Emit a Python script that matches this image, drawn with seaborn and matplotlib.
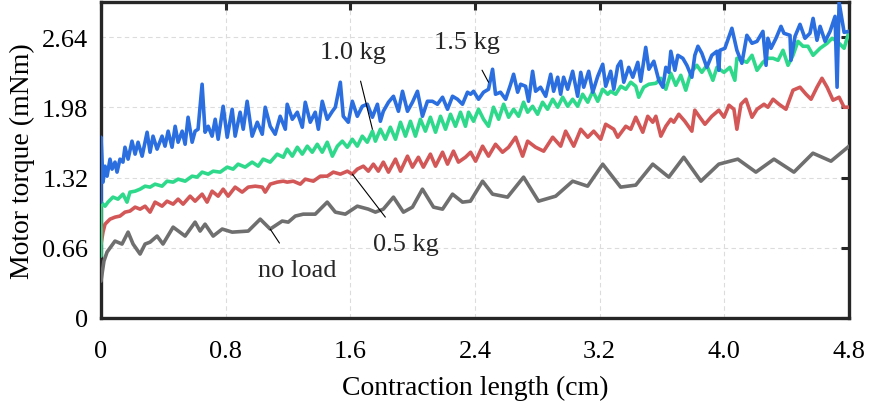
import matplotlib
matplotlib.use("Agg")
import matplotlib.pyplot as plt
import seaborn as sns
import pandas as pd

# ---------------- data ----------------
x_noload = [0.000, 0.019, 0.039, 0.090, 0.135, 0.174, 0.206, 0.251, 0.283, 0.315, 0.360, 0.398,
            0.463, 0.540, 0.604, 0.636, 0.668, 0.720, 0.778, 0.842, 0.945, 1.022, 1.086, 1.163,
            1.202, 1.247, 1.298, 1.375, 1.452, 1.504, 1.568, 1.645, 1.716, 1.761, 1.812, 1.877,
            1.941, 1.999, 2.063, 2.134, 2.192, 2.256, 2.320, 2.371, 2.449, 2.513, 2.609, 2.712,
            2.808, 2.918, 3.027, 3.123, 3.220, 3.335, 3.432, 3.541, 3.644, 3.740, 3.850, 3.965,
            4.087, 4.203, 4.319, 4.447, 4.569, 4.685, 4.801]
y_noload = [0.347, 0.535, 0.620, 0.723, 0.695, 0.807, 0.695, 0.601, 0.695, 0.713, 0.770, 0.695,
            0.854, 0.770, 0.901, 0.817, 0.882, 0.770, 0.836, 0.807, 0.817, 0.929, 0.836, 0.911,
            0.901, 0.958, 0.976, 0.976, 1.089, 0.995, 0.976, 1.051, 1.023, 0.995, 1.023, 1.136,
            0.995, 1.042, 1.211, 1.042, 1.023, 1.164, 1.089, 1.098, 1.286, 1.164, 1.136, 1.324,
            1.098, 1.145, 1.286, 1.239, 1.446, 1.230, 1.249, 1.446, 1.324, 1.511, 1.286, 1.446,
            1.493, 1.371, 1.493, 1.371, 1.549, 1.474, 1.615]

x_05 = [0.000, 0.013, 0.026, 0.058, 0.090, 0.122, 0.154, 0.186, 0.219, 0.251, 0.283, 0.315,
        0.347, 0.392, 0.424, 0.463, 0.495, 0.527, 0.572, 0.604, 0.649, 0.681, 0.713, 0.752,
        0.784, 0.816, 0.861, 0.906, 0.945, 0.990, 1.035, 1.054, 1.086, 1.131, 1.170, 1.195,
        1.234, 1.279, 1.311, 1.363, 1.408, 1.452, 1.491, 1.536, 1.581, 1.613, 1.645, 1.684,
        1.716, 1.748, 1.780, 1.812, 1.845, 1.890, 1.922, 1.967, 1.999, 2.037, 2.069, 2.114,
        2.147, 2.192, 2.224, 2.262, 2.294, 2.339, 2.372, 2.404, 2.449, 2.487, 2.532, 2.577,
        2.616, 2.661, 2.706, 2.738, 2.789, 2.841, 2.899, 2.950, 2.982, 3.034, 3.079, 3.124,
        3.162, 3.207, 3.239, 3.291, 3.316, 3.368, 3.400, 3.432, 3.477, 3.509, 3.541, 3.561,
        3.593, 3.625, 3.657, 3.676, 3.708, 3.747, 3.792, 3.811, 3.843, 3.876, 3.920, 3.965,
        3.998, 4.030, 4.062, 4.081, 4.107, 4.139, 4.178, 4.210, 4.255, 4.280, 4.313, 4.351,
        4.396, 4.441, 4.486, 4.525, 4.557, 4.595, 4.627, 4.660, 4.698, 4.737, 4.769, 4.801]
y_05 = [0.695, 0.807, 0.882, 0.929, 0.948, 0.958, 0.995, 1.005, 1.042, 1.023, 1.051, 0.995,
        1.089, 1.051, 1.098, 1.070, 1.117, 1.070, 1.145, 1.098, 1.164, 1.089, 1.192, 1.145,
        1.211, 1.145, 1.230, 1.183, 1.230, 1.239, 1.230, 1.183, 1.258, 1.277, 1.286, 1.277,
        1.286, 1.258, 1.305, 1.286, 1.333, 1.333, 1.371, 1.352, 1.380, 1.352, 1.399, 1.427,
        1.380, 1.446, 1.380, 1.465, 1.371, 1.493, 1.380, 1.521, 1.418, 1.511, 1.418, 1.540,
        1.427, 1.558, 1.446, 1.568, 1.465, 1.511, 1.558, 1.474, 1.615, 1.521, 1.633, 1.558,
        1.605, 1.699, 1.521, 1.662, 1.605, 1.568, 1.699, 1.615, 1.756, 1.615, 1.774, 1.699,
        1.756, 1.680, 1.821, 1.774, 1.699, 1.802, 1.774, 1.887, 1.746, 1.896, 1.840, 1.896,
        1.709, 1.802, 1.868, 1.840, 1.915, 1.849, 1.756, 1.953, 1.887, 1.821, 1.896, 1.953,
        1.887, 2.000, 1.962, 1.774, 2.009, 2.056, 1.887, 1.962, 2.009, 1.981, 2.056, 2.009,
        1.962, 2.141, 2.169, 2.103, 2.056, 2.169, 2.253, 2.169, 2.047, 2.075, 1.981, 1.981]

x_10 = [0.000, 0.000, 0.026, 0.045, 0.077, 0.109, 0.141, 0.167, 0.186, 0.219, 0.251, 0.283,
        0.315, 0.347, 0.392, 0.424, 0.463, 0.495, 0.540, 0.585, 0.617, 0.649, 0.688, 0.720,
        0.765, 0.810, 0.848, 0.880, 0.925, 0.970, 1.009, 1.041, 1.086, 1.131, 1.170, 1.195,
        1.228, 1.260, 1.292, 1.324, 1.356, 1.388, 1.420, 1.452, 1.485, 1.517, 1.549, 1.581,
        1.613, 1.645, 1.677, 1.709, 1.742, 1.761, 1.793, 1.825, 1.857, 1.890, 1.922, 1.954,
        1.986, 2.018, 2.050, 2.082, 2.114, 2.147, 2.179, 2.211, 2.243, 2.275, 2.307, 2.339,
        2.359, 2.391, 2.423, 2.455, 2.487, 2.519, 2.552, 2.584, 2.616, 2.648, 2.680, 2.712,
        2.738, 2.770, 2.802, 2.834, 2.866, 2.899, 2.931, 2.963, 2.995, 3.027, 3.059, 3.091,
        3.124, 3.156, 3.188, 3.220, 3.252, 3.271, 3.303, 3.336, 3.368, 3.400, 3.432, 3.451,
        3.483, 3.516, 3.561, 3.593, 3.625, 3.657, 3.689, 3.721, 3.753, 3.786, 3.824, 3.856,
        3.888, 3.927, 3.953, 3.998, 4.036, 4.068, 4.081, 4.113, 4.145, 4.178, 4.210, 4.248,
        4.280, 4.313, 4.345, 4.377, 4.409, 4.441, 4.473, 4.505, 4.537, 4.570, 4.615, 4.660,
        4.692, 4.724, 4.769, 4.801]
y_10 = [0.582, 1.089, 1.051, 1.089, 1.136, 1.117, 1.164, 1.089, 1.183, 1.192, 1.211, 1.239,
        1.230, 1.258, 1.239, 1.286, 1.277, 1.305, 1.286, 1.333, 1.324, 1.371, 1.352, 1.380,
        1.371, 1.418, 1.399, 1.446, 1.418, 1.465, 1.427, 1.493, 1.465, 1.540, 1.511, 1.587,
        1.521, 1.605, 1.540, 1.615, 1.558, 1.633, 1.558, 1.652, 1.521, 1.615, 1.662, 1.605,
        1.680, 1.615, 1.709, 1.652, 1.756, 1.662, 1.774, 1.680, 1.793, 1.680, 1.840, 1.709,
        1.849, 1.709, 1.868, 1.756, 1.887, 1.746, 1.896, 1.774, 1.915, 1.802, 1.934, 1.802,
        1.934, 1.849, 1.962, 1.868, 1.802, 1.981, 1.868, 2.009, 1.887, 1.962, 1.896, 2.028,
        1.934, 1.990, 1.915, 2.028, 1.962, 2.056, 1.981, 2.075, 1.990, 2.056, 1.990, 2.103,
        2.028, 2.131, 2.037, 2.150, 2.103, 2.131, 2.103, 2.178, 2.150, 2.216, 2.178, 2.075,
        2.169, 2.197, 2.206, 2.253, 2.150, 2.300, 2.187, 2.281, 2.141, 2.309, 2.375, 2.309,
        2.375, 2.234, 2.356, 2.309, 2.356, 2.234, 2.441, 2.422, 2.403, 2.469, 2.328, 2.403,
        2.441, 2.441, 2.422, 2.516, 2.375, 2.469, 2.600, 2.554, 2.554, 2.469, 2.535, 2.582,
        2.629, 2.600, 2.535, 2.694]

x_15 = [0.000, 0.000, 0.013, 0.026, 0.039, 0.058, 0.071, 0.090, 0.103, 0.122, 0.141, 0.154,
        0.174, 0.199, 0.219, 0.238, 0.264, 0.296, 0.315, 0.334, 0.360, 0.392, 0.411, 0.431,
        0.456, 0.476, 0.495, 0.521, 0.540, 0.559, 0.585, 0.604, 0.623, 0.649, 0.668, 0.688,
        0.713, 0.733, 0.752, 0.784, 0.810, 0.842, 0.861, 0.893, 0.913, 0.938, 0.970, 1.003,
        1.035, 1.054, 1.086, 1.118, 1.150, 1.183, 1.195, 1.228, 1.260, 1.292, 1.311, 1.343,
        1.375, 1.395, 1.420, 1.452, 1.485, 1.504, 1.536, 1.555, 1.587, 1.613, 1.645, 1.677,
        1.709, 1.742, 1.774, 1.793, 1.812, 1.845, 1.877, 1.909, 1.935, 1.967, 1.999, 2.031,
        2.063, 2.095, 2.127, 2.159, 2.192, 2.224, 2.256, 2.288, 2.320, 2.352, 2.372, 2.391,
        2.423, 2.455, 2.487, 2.513, 2.532, 2.564, 2.597, 2.629, 2.648, 2.674, 2.693, 2.725,
        2.744, 2.770, 2.789, 2.821, 2.854, 2.886, 2.905, 2.931, 2.950, 2.969, 2.995, 3.027,
        3.059, 3.079, 3.098, 3.130, 3.156, 3.188, 3.220, 3.239, 3.271, 3.291, 3.316, 3.336,
        3.355, 3.387, 3.413, 3.445, 3.464, 3.496, 3.516, 3.548, 3.580, 3.606, 3.625, 3.644,
        3.657, 3.683, 3.702, 3.734, 3.760, 3.792, 3.811, 3.831, 3.856, 3.888, 3.920, 3.953,
        3.965, 3.972, 4.004, 4.049, 4.081, 4.113, 4.145, 4.178, 4.210, 4.248, 4.268, 4.280,
        4.300, 4.332, 4.364, 4.383, 4.422, 4.428, 4.454, 4.486, 4.518, 4.550, 4.570, 4.595,
        4.615, 4.647, 4.679, 4.711, 4.724, 4.737, 4.769, 4.801]
y_15 = [1.089, 1.699, 1.277, 1.427, 1.333, 1.493, 1.399, 1.465, 1.371, 1.493, 1.465, 1.605,
        1.493, 1.662, 1.540, 1.652, 1.521, 1.746, 1.558, 1.709, 1.587, 1.709, 1.615, 1.756,
        1.605, 1.802, 1.652, 1.756, 1.633, 1.887, 1.652, 1.756, 1.774, 2.197, 1.746, 1.802,
        1.709, 1.868, 1.680, 1.990, 1.699, 1.962, 1.709, 1.934, 1.774, 2.037, 1.709, 1.840,
        1.727, 1.981, 1.802, 1.727, 1.896, 1.774, 2.009, 1.868, 1.934, 1.793, 2.028, 1.840,
        1.934, 1.774, 2.037, 1.868, 1.943, 1.981, 2.216, 1.896, 1.840, 2.037, 1.896, 1.990,
        2.009, 1.887, 2.009, 1.849, 1.943, 2.028, 2.084, 1.943, 2.131, 1.943, 2.028, 2.131,
        1.896, 2.037, 2.037, 2.009, 2.075, 1.962, 2.084, 2.056, 2.009, 2.122, 2.103, 2.131,
        2.056, 2.122, 2.150, 2.338, 2.103, 2.122, 2.056, 2.197, 2.291, 2.122, 2.197, 2.178,
        2.037, 2.319, 2.131, 2.169, 2.084, 2.291, 2.131, 2.263, 2.103, 2.263, 2.150, 2.319,
        2.084, 2.309, 2.169, 2.319, 2.122, 2.272, 2.385, 2.178, 2.319, 2.150, 2.366, 2.413,
        2.216, 2.356, 2.263, 2.403, 2.225, 2.544, 2.338, 2.413, 2.234, 2.169, 2.356, 2.309,
        2.507, 2.328, 2.469, 2.441, 2.375, 2.263, 2.469, 2.554, 2.488, 2.356, 2.469, 2.507,
        2.328, 2.516, 2.535, 2.723, 2.516, 2.394, 2.657, 2.582, 2.600, 2.694, 2.375, 2.629,
        2.535, 2.629, 2.741, 2.676, 2.657, 2.422, 2.647, 2.760, 2.629, 2.676, 2.816, 2.610,
        2.741, 2.600, 2.694, 2.835, 2.169, 2.967, 2.685, 2.694]

x_ticks = [0, 0.8, 1.6, 2.4, 3.2, 4.0, 4.8]
x_tick_labels = ["0", "0.8", "1.6", "2.4", "3.2", "4.0", "4.8"]
y_ticks = [0, 0.66, 1.32, 1.98, 2.64]
y_tick_labels = ["0", "0.66", "1.32", "1.98", "2.64"]

series_names = ["no load", "0.5 kg", "1.0 kg", "1.5 kg"]
series_colors = ["#6f6f6f", "#d35757", "#2fd98b", "#2a6ee0"]

# ---------------- plot ----------------
sns.set_theme(style="white")
plt.rcParams["font.family"] = ["Liberation Serif", "DejaVu Serif"]

fig = plt.figure(figsize=(8.69, 4.06), dpi=100)
ax = fig.add_axes([0.1162, 0.2143, 0.8607, 0.7783])

xs = [x_noload, x_05, x_10, x_15]
ys = [y_noload, y_05, y_10, y_15]
for name, col, xv, yv in zip(series_names, series_colors, xs, ys):
    df = pd.DataFrame({"x": xv, "y": yv})
    sns.lineplot(data=df, x="x", y="y", ax=ax, color=col, lw=2.6,
                 estimator=None, sort=False, zorder=3)

ax.set_xlim(0, 4.8)
ax.set_ylim(0, 2.97)
ax.set_xticks(x_ticks)
ax.set_xticklabels(x_tick_labels)
ax.set_yticks(y_ticks)
ax.set_yticklabels(y_tick_labels)
ax.tick_params(axis="both", which="both", direction="in", length=6, width=2.2,
               colors="#262626", labelsize=19, top=True, right=True)
ax.tick_params(axis="y", pad=9)
ax.tick_params(axis="x", pad=16)
ax.tick_params(axis="both", labelcolor="black")
ax.grid(True, color="#dcdcdc", linestyle=(0, (4, 3)), linewidth=0.8, zorder=0)
for s in ax.spines.values():
    s.set_visible(True)
    s.set_color("#262626")
    s.set_linewidth(2.4)

ax.set_xlabel("Contraction length (cm)", fontsize=20, color="black", labelpad=9)
ax.set_ylabel("Motor torque (mNm)", fontsize=20, color="black", labelpad=5)

# annotations with leader lines
ann_fs = 19
ax.annotate("1.0 kg", xy=(1.742, 1.774), xytext=(1.62, 2.50), fontsize=ann_fs,
            ha="center", va="center",
            arrowprops=dict(arrowstyle="-", color="black", lw=0.8, shrinkA=11, shrinkB=0))
ax.annotate("1.5 kg", xy=(2.487, 2.216), xytext=(2.35, 2.59), fontsize=ann_fs,
            ha="center", va="center",
            arrowprops=dict(arrowstyle="-", color="black", lw=0.8, shrinkA=11, shrinkB=0))
ax.annotate("0.5 kg", xy=(1.613, 1.352), xytext=(1.955, 0.70), fontsize=ann_fs,
            ha="center", va="center",
            arrowprops=dict(arrowstyle="-", color="black", lw=0.8, shrinkA=11, shrinkB=0))
ax.annotate("no load", xy=(1.086, 0.836), xytext=(1.26, 0.45), fontsize=ann_fs,
            ha="center", va="center",
            arrowprops=dict(arrowstyle="-", color="black", lw=0.8, shrinkA=11, shrinkB=0))

fig.savefig("out.png", dpi=100)
